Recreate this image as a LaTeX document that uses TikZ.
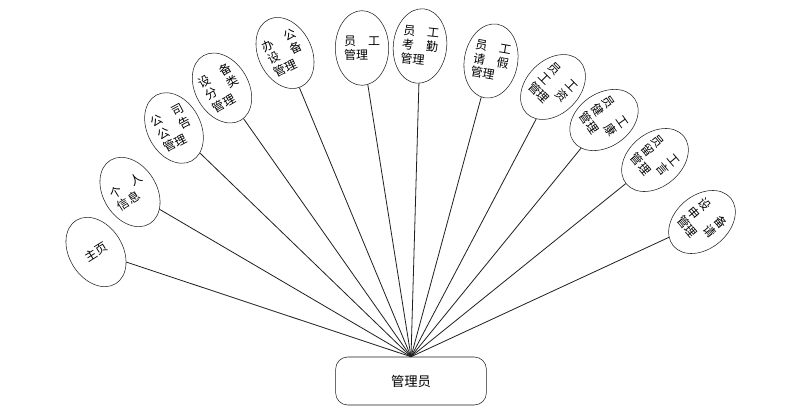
\documentclass[tikz,border=0pt]{standalone}
\usepackage{fontspec}
\newfontfamily\cjk{Noto Sans CJK SC}
\usetikzlibrary{shapes.geometric}
\definecolor{linha}{rgb}{0.12,0.12,0.12}

\begin{document}
\begin{tikzpicture}[x=0.75pt, y=-0.75pt,
        func/.style={draw=linha, ellipse, minimum width=40pt, minimum height=56pt, inner sep=0pt, align=left, font=\cjk\fontsize{9}{10.5}\selectfont},
        role/.style={draw=linha, rounded corners=9pt, minimum width=113pt, minimum height=36pt, font=\cjk\fontsize{10}{12}\selectfont}]
            \useasboundingbox[fill=white] (0,0) rectangle (796,410);

            \node[role] (adm) at (411,381) {管理员};

            \node[func, rotate=32] (home) at (96,252) {主页};
            \node[func, rotate=32] (info) at (130,192) {个　人\\信息};
            \node[func, rotate=28] (notice) at (174,128) {公　司\\公　告\\管理};
            \node[func, rotate=30] (kind) at (222,88) {设　备\\分　类\\管理};
            \node[func, rotate=26] (equip) at (285,53) {办　公\\设　备\\管理};
            \node[func] (staff) at (362,48) {员　工\\管理};
            \node[func, rotate=-6] (attend) at (420,46) {员　工\\考　勤\\管理};
            \node[func, rotate=-10] (leave) at (491,61) {员　工\\请　假\\管理};
            \node[func, rotate=-45] (salary) at (553,87) {员　工\\工　资\\管理};
            \node[func, rotate=-55] (health) at (604,120) {员　工\\健　康\\管理};
            \node[func, rotate=-50] (msg) at (655,160) {员　工\\留　言\\管理};
            \node[func, rotate=-50] (apply) at (702,222) {设　备\\申　请\\管理};

            \foreach \n in {home,info,notice,kind,equip,staff,attend,leave,salary,health,msg,apply}
                \draw[linha, line width=0.6pt] (\n) -- (adm.north);
        \end{tikzpicture}
\end{document}
